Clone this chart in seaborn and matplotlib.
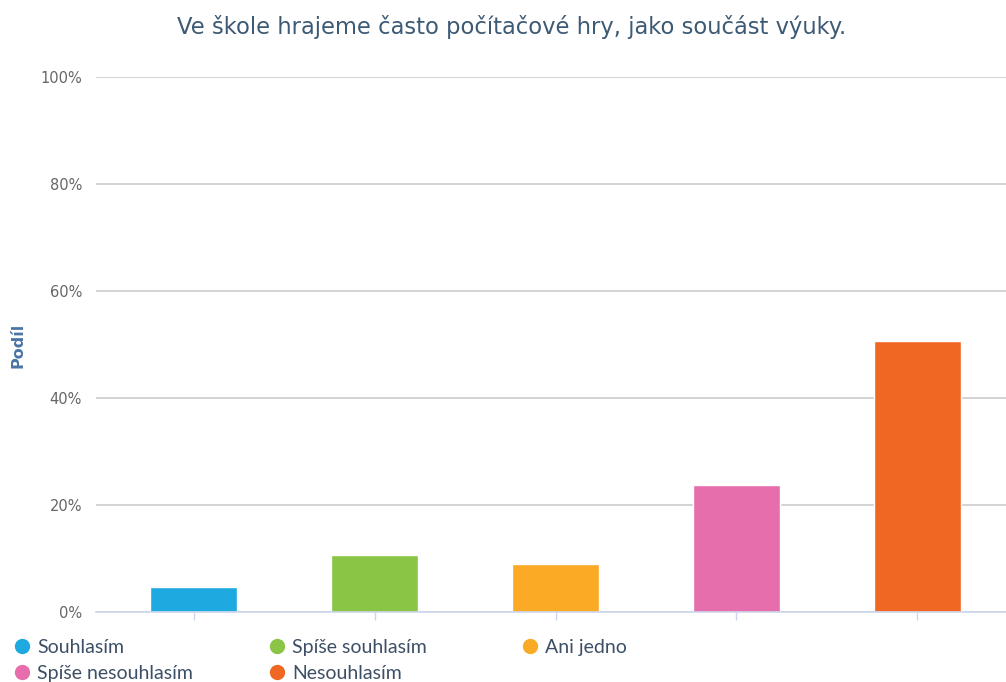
import matplotlib
matplotlib.use("Agg")
import matplotlib.pyplot as plt
from matplotlib.lines import Line2D
from matplotlib.ticker import FuncFormatter
import seaborn as sns
import pandas as pd

# Survey answers and the share of respondents (in %)
categories = ["Souhlasím", "Spíše souhlasím", "Ani jedno", "Spíše nesouhlasím", "Nesouhlasím"]
shares = [4.6, 10.6, 8.9, 23.6, 50.7]
colors = ["#1FA9E1", "#8AC546", "#FBAA26", "#E66EAC", "#F06724"]
y_ticks = [0, 20, 40, 60, 80, 100]
title = "Ve škole hrajeme často počítačové hry, jako součást výuky."
y_label = "Podíl"

df = pd.DataFrame({"odpoved": categories, "podil": shares})

sns.set_theme(style="white")
plt.rcParams["font.family"] = ["DejaVu Sans"]

W, H = 1006, 682
fig = plt.figure(figsize=(W / 100, H / 100), dpi=100)
left_px, right_px, top_px, bottom_px = 96, 1006, 77, 611.5
ax = fig.add_axes([left_px / W, (H - bottom_px) / H,
                   (right_px - left_px) / W, (bottom_px - top_px) / H])

sns.barplot(data=df, x="odpoved", y="podil", hue="odpoved", palette=colors,
            order=categories, hue_order=categories, width=0.48, legend=False,
            edgecolor="white", linewidth=1, saturation=1, ax=ax)

# category band of 181 px with the first centre at x = 193.5 px
step = 181.0
ax.set_xlim(-(193.5 - left_px) / step, 4 + (right_px - 917.5) / step)
ax.set_ylim(0, 100)
ax.set_yticks(y_ticks)
ax.yaxis.set_major_formatter(FuncFormatter(lambda v, _: f"{v:.0f}%"))
ax.grid(axis="y", color="#cccccc", linewidth=1.2)
ax.set_axisbelow(True)
for side in ("left", "right", "top"):
    ax.spines[side].set_visible(False)
ax.spines["bottom"].set_color("#ccd6eb")
ax.spines["bottom"].set_linewidth(1.2)
ax.spines["bottom"].set_zorder(3)

ax.tick_params(axis="y", length=0, pad=10, labelsize=10.5, labelcolor="#666666")
ax.tick_params(axis="x", bottom=True, length=6, width=1, color="#ccd6eb",
               labelbottom=False)
ax.set_xlabel("")
ax.set_ylabel("")

fig.text(512 / W, 1 - 27 / H, title, ha="center", va="center",
         fontsize=16.3, color="#3d5a75")
fig.text(18 / W, 1 - 345 / H, y_label, ha="center", va="center", rotation=90,
         fontsize=11.5, fontweight="bold", color="#4a74a5")

# legend laid out in three columns, items flowing row by row
legend_font = {"family": ["Lato", "DejaVu Sans"], "size": 14}
columns = [[0, 3], [1, 4], [2]]
col_x = [16, 271, 524]
for idx, x0 in zip(columns, col_x):
    handles = [Line2D([], [], marker="o", linestyle="", markersize=10,
                      markerfacecolor=colors[i], markeredgecolor=colors[i])
               for i in idx]
    labels = [categories[i] for i in idx]
    fig.legend(handles, labels, loc="upper left",
               bbox_to_anchor=(x0 / W, 1 - 639 / H), frameon=False,
               prop=legend_font, labelcolor="#3d4f66", handlelength=0.6,
               handletextpad=0.5, borderpad=0, borderaxespad=0,
               labelspacing=0.45)

fig.savefig("out.png", dpi=100)
